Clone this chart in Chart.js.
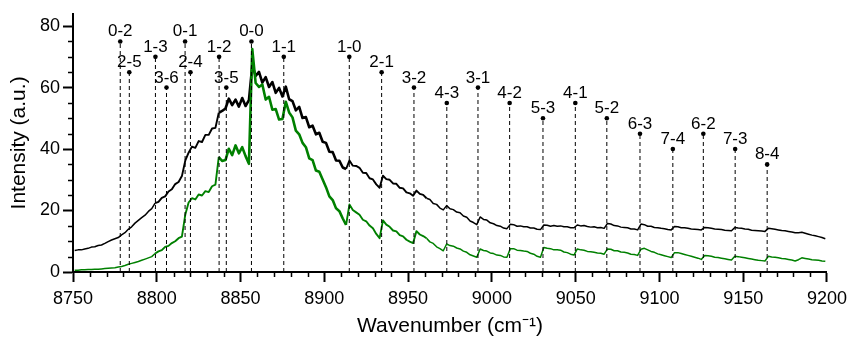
<!DOCTYPE html>
<html>
<head>
<meta charset="utf-8">
<script src="https://cdn.jsdelivr.net/npm/chart.js@4.4.1/dist/chart.umd.min.js"></script>
<style>
  html, body { margin: 0; padding: 0; background: #fff; }
  #wrap { width: 853px; height: 341px; }
</style>
</head>
<body>
<div id="wrap"><canvas id="chart"></canvas></div>
<script>
// spectrum sampled every 2 cm-1 (odd wavenumbers), 5 points per row
const wavenumber = [
  8751, 8753, 8755, 8757, 8759,
  8761, 8763, 8765, 8767, 8769,
  8771, 8773, 8775, 8777, 8779,
  8781, 8783, 8785, 8787, 8789,
  8791, 8793, 8795, 8797, 8799,
  8801, 8803, 8805, 8807, 8809,
  8811, 8813, 8815, 8817, 8819,
  8821, 8823, 8825, 8827, 8829,
  8831, 8833, 8835, 8837, 8839,
  8841, 8843, 8845, 8847, 8849,
  8851, 8853, 8855, 8857, 8859,
  8861, 8863, 8865, 8867, 8869,
  8871, 8873, 8875, 8877, 8879,
  8881, 8883, 8885, 8887, 8889,
  8891, 8893, 8895, 8897, 8899,
  8901, 8903, 8905, 8907, 8909,
  8911, 8913, 8915, 8917, 8919,
  8921, 8923, 8925, 8927, 8929,
  8931, 8933, 8935, 8937, 8939,
  8941, 8943, 8945, 8947, 8949,
  8951, 8953, 8955, 8957, 8959,
  8961, 8963, 8965, 8967, 8969,
  8971, 8973, 8975, 8977, 8979,
  8981, 8983, 8985, 8987, 8989,
  8991, 8993, 8995, 8997, 8999,
  9001, 9003, 9005, 9007, 9009,
  9011, 9013, 9015, 9017, 9019,
  9021, 9023, 9025, 9027, 9029,
  9031, 9033, 9035, 9037, 9039,
  9041, 9043, 9045, 9047, 9049,
  9051, 9053, 9055, 9057, 9059,
  9061, 9063, 9065, 9067, 9069,
  9071, 9073, 9075, 9077, 9079,
  9081, 9083, 9085, 9087, 9089,
  9091, 9093, 9095, 9097, 9099,
  9101, 9103, 9105, 9107, 9109,
  9111, 9113, 9115, 9117, 9119,
  9121, 9123, 9125, 9127, 9129,
  9131, 9133, 9135, 9137, 9139,
  9141, 9143, 9145, 9147, 9149,
  9151, 9153, 9155, 9157, 9159,
  9161, 9163, 9165, 9167, 9169,
  9171, 9173, 9175, 9177, 9179,
  9181, 9183, 9185, 9187, 9189,
  9191, 9193, 9195, 9197, 9199
];

const intensityBlack = [
  7.0, 7.2, 7.2, 7.5, 7.7,
  8.1, 8.2, 8.6, 8.8, 9.3,
  9.9, 10.4, 10.8, 11.2, 12.1,
  12.8, 13.9, 14.7, 15.9, 16.8,
  17.7, 18.5, 19.7, 20.6, 22.4,
  22.8, 24.1, 24.6, 26.2, 26.9,
  28.6, 29.3, 31.2, 36.2, 38.8,
  40.8, 40.4, 42.6, 42.3, 44.6,
  44.6, 46.7, 46.9, 51.8, 52.4,
  53.2, 56.4, 54.3, 56.1, 53.8,
  56.6, 54.0, 55.9, 67.2, 63.8,
  65.1, 61.6, 63.4, 60.2, 61.8,
  58.3, 59.9, 57.1, 60.3, 56.2,
  55.6, 52.6, 53.7, 50.1, 50.4,
  47.1, 47.6, 44.8, 45.3, 42.4,
  42.0, 39.1, 39.0, 36.3, 36.2,
  34.0, 33.5, 36.3, 34.6, 34.5,
  33.9, 32.3, 32.2, 30.5, 30.1,
  28.5, 27.4, 31.3, 30.2, 30.0,
  28.8, 28.7, 27.4, 27.2, 25.9,
  25.6, 24.8, 26.5, 25.4, 25.1,
  24.0, 23.6, 22.3, 22.0, 20.8,
  20.2, 21.6, 20.6, 20.3, 19.5,
  19.3, 18.2, 17.8, 16.6, 16.1,
  15.4, 17.9, 17.1, 16.9, 16.0,
  15.7, 15.1, 14.9, 14.3, 14.1,
  15.5, 15.4, 14.9, 15.0, 14.7,
  14.7, 14.3, 14.3, 13.9, 13.8,
  15.3, 15.2, 14.9, 15.1, 14.9,
  15.0, 14.7, 14.7, 14.4, 14.4,
  15.3, 15.0, 15.1, 14.8, 14.6,
  14.7, 14.4, 14.5, 14.2, 15.8,
  15.6, 15.1, 15.0, 14.6, 14.5,
  14.4, 14.0, 14.0, 13.7, 15.6,
  15.4, 14.9, 14.9, 14.5, 14.4,
  14.2, 14.1, 13.8, 13.7, 14.8,
  14.7, 14.4, 14.4, 14.2, 14.0,
  13.9, 13.8, 13.7, 14.5, 14.4,
  14.2, 14.0, 13.9, 13.8, 13.6,
  13.5, 13.4, 14.5, 14.3, 14.2,
  14.0, 13.9, 13.6, 13.5, 13.4,
  13.3, 13.2, 14.2, 14.1, 13.9,
  13.7, 13.5, 13.4, 13.2, 13.0,
  12.8, 12.8, 12.9, 12.6, 12.3,
  12.0, 11.8, 11.5, 11.2, 10.8
];

const intensityGreen = [
  0.6, 0.6, 0.7, 0.7, 0.8,
  0.8, 0.9, 0.9, 1.0, 1.1,
  1.2, 1.3, 1.4, 1.6, 1.8,
  2.1, 2.5, 2.8, 3.1, 3.4,
  3.8, 4.2, 4.6, 5.0, 6.0,
  6.7, 7.1, 8.2, 8.5, 9.4,
  10.0, 11.0, 11.5, 18.6, 22.6,
  24.0, 23.6, 25.2, 24.9, 26.3,
  26.0, 27.9, 28.4, 37.4, 36.1,
  36.4, 40.1, 38.0, 41.2, 38.6,
  40.6, 37.7, 35.2, 72.5, 61.5,
  60.2, 61.0, 56.1, 57.0, 52.8,
  53.0, 49.6, 49.8, 55.4, 51.9,
  50.3, 46.0, 44.8, 42.0, 40.6,
  37.0, 36.4, 33.0, 32.6, 30.1,
  27.6, 24.6, 23.4, 20.7, 19.8,
  17.4, 15.3, 22.0, 20.2, 19.4,
  18.6, 17.0, 16.5, 15.1, 14.2,
  12.4, 11.0, 16.8, 15.4, 14.7,
  13.5, 13.2, 12.0, 11.6, 10.5,
  9.9, 9.4, 13.3, 12.2, 11.7,
  11.0, 9.8, 9.3, 8.2, 7.6,
  6.9, 9.1, 8.6, 8.4, 7.8,
  7.5, 6.8, 6.4, 5.6, 5.2,
  4.8, 7.5, 7.0, 6.8, 6.2,
  6.0, 5.5, 5.4, 4.9, 4.8,
  7.6, 7.6, 7.1, 7.0, 6.8,
  6.7, 6.1, 5.8, 5.1, 4.8,
  8.0, 7.7, 7.6, 7.2, 7.2,
  7.1, 6.5, 6.3, 5.8, 5.5,
  7.5, 7.2, 7.1, 6.7, 6.6,
  6.4, 6.2, 6.1, 5.8, 7.5,
  7.4, 6.9, 6.9, 6.5, 6.4,
  6.2, 5.8, 5.7, 5.4, 7.4,
  7.7, 7.2, 6.7, 6.4, 5.9,
  5.6, 5.3, 5.0, 4.7, 6.3,
  6.3, 6.0, 5.7, 5.4, 5.1,
  4.8, 4.5, 4.1, 5.4, 5.3,
  5.1, 4.8, 4.7, 4.5, 4.3,
  4.1, 3.9, 5.1, 5.0, 4.8,
  4.6, 4.4, 4.2, 4.0, 3.8,
  3.7, 3.6, 5.1, 4.9, 4.8,
  4.6, 4.4, 4.3, 4.1, 3.9,
  3.6, 4.0, 4.6, 4.4, 4.2,
  4.0, 3.9, 3.8, 3.6, 3.5
];

// vibrational band heads (v'-v'')
const bandLabels = ['0-2', '2-5', '1-3', '3-6', '0-1', '2-4', '1-2', '3-5', '0-0', '1-1',
  '1-0', '2-1', '3-2', '4-3', '3-1', '4-2', '5-3', '4-1', '5-2', '6-3', '7-4', '6-2', '7-3', '8-4'];
const bandPositions = [8778.2, 8783.6, 8799.2, 8805.8, 8816.9, 8820.1, 8837.2, 8841.5, 8856.5, 8875.8,
  8914.9, 8934.2, 8953.5, 8973.1, 8991.7, 9010.6, 9030.5, 9049.8, 9068.6, 9088.4, 9108.0, 9126.2, 9145.2, 9164.3];
const bandHeights = [75, 65, 70, 60, 75, 65, 70, 60, 75, 70,
  70, 65, 60, 55, 60, 55, 50, 55, 50, 45, 40, 45, 40, 35];

const xTickValues = [8750, 8800, 8850, 8900, 8950, 9000, 9050, 9100, 9150, 9200];
const yTickValues = [0, 20, 40, 60, 80];

const FONT = '"Liberation Sans", Arial, sans-serif';
Chart.defaults.font.family = FONT;
Chart.defaults.color = '#000';

const toPoints = (ys) => wavenumber.map((w, i) => ({ x: w, y: ys[i] }));

// the noisy part of the spectrum is drawn with a heavier pen
const noiseWidth = (ctx) => {
  const w = ctx.p0.parsed.x;
  if (w >= 8836 && w < 8912) return 2.6;
  if (w >= 8798 && w < 8960) return 1.9;
  return 1.5;
};

const dropLines = [];
bandPositions.forEach((w, i) => {
  dropLines.push({ x: w, y: 0 }, { x: w, y: bandHeights[i] }, { x: w, y: null });
});

const minorTicks = {
  id: 'minorTicks',
  afterDraw(chart) {
    const { ctx, chartArea, scales: { x, y } } = chart;
    ctx.save();
    ctx.strokeStyle = '#000';
    ctx.lineWidth = 1.5;
    ctx.beginPath();
    for (let v = 8760; v < 9200; v += 10) {
      if (v % 50 === 0) continue;
      const px = Math.round(x.getPixelForValue(v)) + 0.5;
      ctx.moveTo(px, chartArea.bottom);
      ctx.lineTo(px, chartArea.bottom + 5);
    }
    for (let v = 5; v < 84; v += 5) {
      if (v % 20 === 0) continue;
      const py = Math.round(y.getPixelForValue(v)) + 0.5;
      ctx.moveTo(chartArea.left - 5, py);
      ctx.lineTo(chartArea.left, py);
    }
    ctx.stroke();
    ctx.restore();
  }
};

const bandText = {
  id: 'bandText',
  afterDatasetsDraw(chart) {
    const { ctx, scales: { x, y } } = chart;
    ctx.save();
    ctx.font = '17px ' + FONT;
    ctx.fillStyle = '#000';
    ctx.textAlign = 'center';
    ctx.textBaseline = 'alphabetic';
    bandLabels.forEach((t, i) => {
      ctx.fillText(t, x.getPixelForValue(bandPositions[i]), y.getPixelForValue(bandHeights[i]) - 5);
    });
    ctx.restore();
  }
};

new Chart(document.getElementById('chart'), {
  type: 'line',
  data: {
    datasets: [
      {
        label: 'marks',
        data: bandPositions.map((w, i) => ({ x: w, y: bandHeights[i] })),
        showLine: false,
        pointRadius: 2.3,
        pointBackgroundColor: '#000',
        pointBorderWidth: 0,
        order: 0
      },
      {
        label: 'drops',
        data: dropLines,
        borderColor: '#000',
        borderWidth: 1,
        borderDash: [4, 3],
        pointRadius: 0,
        spanGaps: false,
        order: 1
      },
      {
        label: 'green',
        data: toPoints(intensityGreen),
        borderColor: '#008000',
        borderWidth: 1.5,
        segment: { borderWidth: noiseWidth },
        borderJoinStyle: 'round',
        pointRadius: 0,
        order: 2
      },
      {
        label: 'black',
        data: toPoints(intensityBlack),
        borderColor: '#000',
        borderWidth: 1.5,
        segment: { borderWidth: noiseWidth },
        borderJoinStyle: 'round',
        pointRadius: 0,
        order: 3
      }
    ]
  },
  options: {
    responsive: true,
    maintainAspectRatio: false,
    animation: false,
    layout: { padding: { left: 0, right: 21, top: 11, bottom: 0 } },
    plugins: { legend: { display: false }, tooltip: { enabled: false } },
    scales: {
      x: {
        type: 'linear',
        min: 8750,
        max: 9200,
        afterBuildTicks: (s) => { s.ticks = xTickValues.map(v => ({ value: v })); },
        afterFit: (s) => { s.height = 69; },
        ticks: { font: { size: 18 }, padding: 6, maxRotation: 0, autoSkip: false, callback: (v) => String(v) },
        grid: { drawOnChartArea: false, drawTicks: true, tickLength: 10, tickWidth: 2, tickColor: '#000' },
        border: { display: true, color: '#000', width: 2 },
        title: { display: true, text: 'Wavenumber (cm\u207B\u00B9)', font: { size: 21 }, padding: { top: 0, bottom: 2 } }
      },
      y: {
        min: 0,
        max: 84,
        afterBuildTicks: (s) => { s.ticks = yTickValues.map(v => ({ value: v })); },
        afterFit: (s) => { s.width = 73; },
        ticks: { font: { size: 18 }, padding: 3, callback: (v) => String(v) },
        grid: { drawOnChartArea: false, drawTicks: true, tickLength: 10, tickWidth: 2, tickColor: '#000' },
        border: { display: true, color: '#000', width: 2 },
        title: { display: true, text: 'Intensity (a.u.)', font: { size: 21 }, padding: { top: 7, bottom: 0 } }
      }
    }
  },
  plugins: [minorTicks, bandText]
});
</script>
</body>
</html>
